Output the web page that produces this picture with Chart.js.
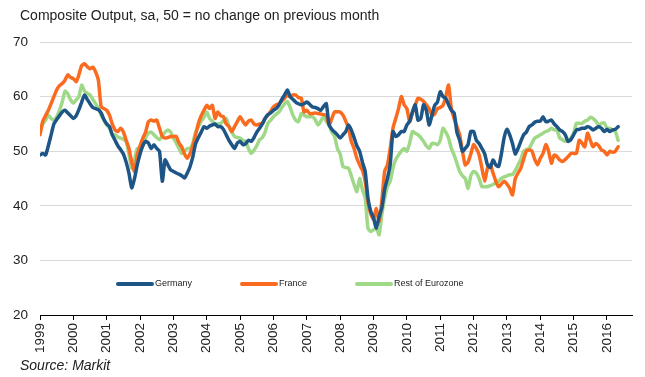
<!DOCTYPE html>
<html>
<head>
<meta charset="utf-8">
<script src="https://cdn.jsdelivr.net/npm/chart.js@4.4.1/dist/chart.umd.min.js"></script>
<style>
  html, body { margin: 0; padding: 0; background: #fff; }
  #wrap { position: relative; width: 645px; height: 377px; font-family: "Liberation Sans", Arial, sans-serif; color: #222; }
  #title { position: absolute; left: 20px; top: 7px; font-size: 14px; white-space: nowrap; }
  #source { position: absolute; left: 20px; top: 357px; font-size: 14px; font-style: italic; white-space: nowrap; }
</style>
</head>
<body>
<div id="wrap">
  <canvas id="pmiChart"></canvas>
  <div id="title">Composite Output, sa, 50 = no change on previous month</div>
  <div id="source">Source: Markit</div>
</div>
<script>
// monthly composite PMI, Jan 1999 .. May 2016
const startYear = 1999;
const yearTicks = [1999, 2000, 2001, 2002, 2003, 2004, 2005, 2006, 2007, 2008, 2009, 2010, 2011, 2012, 2013, 2014, 2015, 2016];
const seriesNames = ['Germany', 'France', 'Rest of Eurozone'];

const germany = [
  49.3, 49.6, 49.3, 51, 53, 55, 55.8, 56.5, 57.2, 57.5, 57, 56.5,
  56, 56.5, 57.6, 59, 60.3, 59.5, 58.7, 58, 57.8, 57.6, 57, 55.8,
  55, 54.5, 53, 52, 51, 50.3, 49.5, 48, 46, 43.3, 45, 47.5,
  49.5, 51, 51.8, 51.5, 50.5, 51.2, 50.5, 50, 44.5, 48.4, 47.5, 46.6,
  46.3, 46, 45.8, 45.5, 45.1, 46, 47.2, 49, 51.4, 52.5, 53.5, 54.5,
  54.2, 54.6, 54.8, 55, 54.5, 54.5, 54, 53, 52, 51.2, 50.5, 51.5,
  51.8, 51.2, 51.4, 52, 51.8, 52.5, 53.5, 54.2, 55, 56, 56.7, 57,
  57.5, 57.8, 58.5, 59.5, 60.3, 61.2, 60, 59.5, 59, 58.7, 58.5, 58.7,
  59, 58.6, 58.1, 58, 57.8, 57.5, 58.2, 58.7, 54.8, 54, 53.5, 53,
  52.4, 53, 53.6, 54.8, 53.9, 52.5, 51, 50, 48, 46.3, 41.4, 39,
  37.8, 35.9, 38, 39.6, 43, 45, 47.5, 53.6, 52.7, 53, 53.6, 53.6,
  54.8, 55.5, 57.2, 58.5, 55.7, 56, 58.5, 57.5, 54.8, 56.5, 58.4, 59,
  60.9, 60, 59.7, 58.5, 57.5, 57, 53.5, 52, 50, 50.5, 51.2, 53.6,
  53.6, 52, 51.4, 50.5, 49.5, 47.5, 47, 48.4, 47.5, 47.2, 49.5, 52.5,
  54, 53, 51.4, 49.5, 50.5, 51.8, 53, 53.5, 54.5, 54.8, 55.3, 55.5,
  55.5, 56.3, 55.4, 55.5, 55.7, 55, 54.5, 53.9, 53.6, 53, 51.8, 52.1,
  53, 53.9, 54, 54.2, 54.2, 54.5, 54.3, 53.9, 54.2, 54.5, 54.2, 53.6,
  54, 53.6, 53.9, 54, 54.5
];

const france = [
  53, 55.5, 56.5, 57.5, 58.7, 60, 61.2, 62, 62.4, 63, 64, 63.5,
  63.3, 62.7, 64, 65.7, 66, 65.5, 65.1, 65.4, 64.5, 63, 58.1, 57.8,
  57.5, 56.6, 55, 53.9, 53.6, 54.2, 53.5, 52, 50.5, 48, 46.3, 49.3,
  51, 52.4, 53.5, 55.4, 55.7, 55.5, 55.7, 54.2, 52.7, 52.4, 52.5, 52.7,
  52.7, 52.7, 51.5, 50.8, 49.5, 48.7, 49.6, 51, 53, 55.1, 56.5, 57.5,
  58.4, 57.8, 58.4, 56, 57.2, 56.5, 56.3, 55, 54.5, 53.6, 54.5, 55.4,
  56.3, 55.5, 54.8, 55.5, 55.7, 55, 54.8, 55, 55.1, 56, 56.6, 57.3,
  58.1, 58.5, 58.7, 59.2, 59.7, 60.3, 60, 60.3, 60.3, 59.8, 59.7, 57.2,
  57.5, 56.9, 56.9, 57, 56.9, 56.8, 56.7, 56.6, 54.8, 56, 57.2, 57.2,
  57.2, 56.6, 55.5, 54.2, 51.8, 50.5, 48.7, 47.5, 46.5, 44.5, 40.8, 38.5,
  37.5, 39.5, 37.2, 41, 46.3, 47.5, 50.5, 54.2, 56, 57.8, 60, 58.5,
  57.8, 55.4, 57, 58.4, 59.7, 59.5, 59.1, 58.5, 57.8, 56.6, 56.8, 57.8,
  58, 58.4, 60, 62.1, 57.8, 56, 54.5, 53, 50, 47.5, 48, 49.5,
  51.2, 50.5, 49.3, 46.9, 44.5, 46.9, 47.5, 46, 44.5, 43.5, 44, 44.5,
  44, 43.2, 42, 45, 46, 46.9, 48.5, 50, 50.2, 50, 48.5, 47.5,
  48.7, 49.6, 51.2, 50, 47.8, 49.3, 49, 48.4, 48.1, 48.5, 49, 49.6,
  49.6, 49.6, 52, 51.5, 50.8, 53.3, 52, 50.8, 51.4, 51, 50.2, 50,
  49.3, 50, 49.8, 50, 50.8
];

const restOfEurozone = [
  53.8, 55, 55.7, 56.6, 56, 55.7, 56.3, 57.5, 59, 61, 60.5, 59.4,
  58.8, 59.4, 60, 62.1, 61, 60.6, 60.3, 59.5, 58.7, 57.8, 56.6, 55.7,
  54.8, 54.2, 53, 53, 52.6, 52.4, 52.2, 51.8, 49.5, 46.9, 48.5, 50.5,
  50.5, 51.5, 52.5, 53.3, 53.5, 53, 52.5, 52.1, 52.8, 53.5, 53.9, 53.5,
  52.4, 51.5, 50.5, 49.6, 50, 50.5, 50.5, 51.5, 53.5, 54.5, 55.5, 56.2,
  57.2, 56, 55.5, 54.8, 55, 55.1, 55.5, 56, 54.5, 53.5, 52.7, 52.5,
  52.4, 52, 51.8, 50.5, 49.6, 50.2, 51, 52.1, 52.5, 53.5, 55.1, 55.7,
  56.3, 56.8, 57.2, 58, 58.7, 59.1, 58, 56.6, 55.7, 55.4, 56.9, 56.6,
  56.3, 56.3, 56.3, 55.8, 54.8, 55.5, 56.3, 55.5, 54.8, 53.5, 52.7, 50.5,
  49.5, 47.2, 47, 46.9, 45.5, 43.9, 42.6, 45, 43, 41.4, 35.9, 35.3,
  35.6, 35.9, 34.7, 38.4, 41.4, 43.5, 44.5, 46.9, 48.5, 49.3, 50, 50.5,
  50, 51.5, 53.6, 53.3, 53, 52.5, 51.8, 51, 50.5, 51.4, 51.4, 51.2,
  52, 54.2, 53.5, 52.4, 50.5, 49.3, 47.8, 46.3, 45.5, 45, 43.2, 45.5,
  46.3, 46, 45, 43.5, 43.5, 43.5, 43.7, 43.9, 44.2, 44.5, 45, 45.3,
  45.5, 45.7, 45.7, 46.5, 47.5, 48.5, 50, 50.3, 50.5, 51.5, 52.4, 52.7,
  53, 53.3, 53.6, 53.8, 54.2, 53.9, 53.9, 52.4, 52.1, 51.8, 52, 52.4,
  53.3, 55.1, 55.1, 55.1, 55.5, 55.7, 56.2, 56, 55.5, 54.8, 55.1, 55.2,
  54.2, 54.2, 53.9, 53.6, 52
];

const colors = ['#1d5586', '#fb6b1f', '#9fd886'];
const fontFamily = '"Liberation Sans", Arial, sans-serif';

function toPoints(values) {
  return values.map((v, i) => ({ x: startYear + i / 12, y: v }));
}

// legend sits inside the plot, between 20 and 30
const innerLegend = {
  id: 'innerLegend',
  afterDraw(chart) {
    const ctx = chart.ctx;
    const area = chart.chartArea;
    const y = area.bottom - 31;
    const starts = [78, 202, 317];
    ctx.save();
    ctx.font = '9px ' + fontFamily;
    ctx.textBaseline = 'middle';
    chart.data.datasets.forEach((ds, i) => {
      const x0 = area.left + starts[i];
      ctx.strokeStyle = ds.borderColor;
      ctx.lineWidth = 4;
      ctx.lineCap = 'round';
      ctx.beginPath();
      ctx.moveTo(x0, y);
      ctx.lineTo(x0 + 34, y);
      ctx.stroke();
      ctx.fillStyle = '#222';
      ctx.fillText(ds.label, x0 + 37, y);
    });
    ctx.restore();
  }
};

new Chart(document.getElementById('pmiChart'), {
  type: 'line',
  data: {
    datasets: [
      { label: seriesNames[0], data: toPoints(germany), borderColor: colors[0] },
      { label: seriesNames[1], data: toPoints(france), borderColor: colors[1] },
      { label: seriesNames[2], data: toPoints(restOfEurozone), borderColor: colors[2] }
    ]
  },
  options: {
    responsive: true,
    maintainAspectRatio: false,
    animation: false,
    layout: { padding: { left: 8, right: 13, top: 42, bottom: 24 } },
    elements: {
      point: { radius: 0 },
      line: { borderWidth: 3.5, tension: 0.2, borderCapStyle: 'round', borderJoinStyle: 'round' }
    },
    plugins: {
      legend: { display: false },
      tooltip: { enabled: false }
    },
    scales: {
      x: {
        type: 'linear',
        min: 1999,
        max: 2016.75,
        afterBuildTicks: (scale) => { scale.ticks = yearTicks.map(v => ({ value: v })); },
        afterFit: (scale) => { scale.height = 38; },
        ticks: {
          autoSkip: false,
          minRotation: 90,
          maxRotation: 90,
          padding: 3,
          color: '#222',
          font: { family: fontFamily, size: 13.5 },
          callback: (v) => String(v)
        },
        grid: { drawOnChartArea: false, drawTicks: true, tickLength: 5, color: '#000' },
        border: { display: true, color: '#000', width: 1 }
      },
      y: {
        min: 20,
        max: 70,
        afterFit: (scale) => { scale.width = 32; },
        ticks: {
          stepSize: 10,
          padding: 12,
          color: '#222',
          font: { family: fontFamily, size: 13.5 }
        },
        grid: { color: '#d9d9d9', lineWidth: 1, drawTicks: false },
        border: { display: false }
      }
    }
  },
  plugins: [innerLegend]
});
</script>
</body>
</html>
